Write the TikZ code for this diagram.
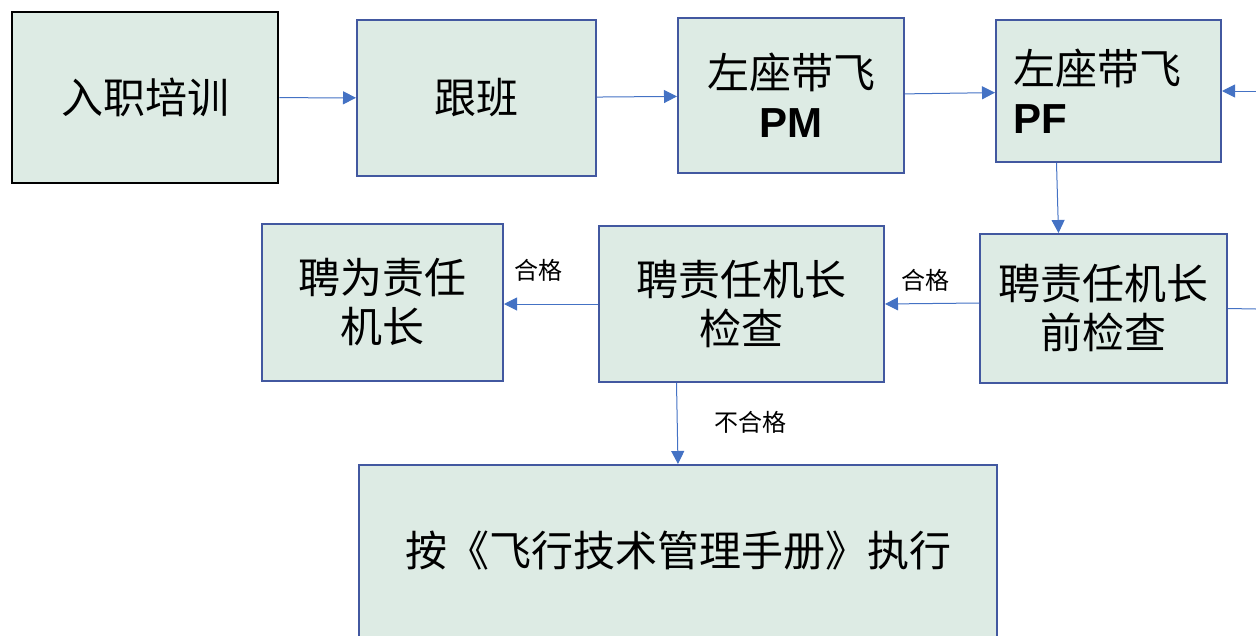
\documentclass[tikz,border=0pt]{standalone}
\usepackage{fontspec}
\usetikzlibrary{arrows.meta}
\newfontfamily\cjk{Noto Sans CJK SC}
\newfontfamily\latin{Liberation Sans}
\definecolor{boxfill}{RGB}{221,235,228}
\definecolor{boxline}{RGB}{66,88,160}
\definecolor{arrowline}{RGB}{68,114,196}
\tikzset{
    box/.style={draw=boxline, line width=2pt, fill=boxfill, align=center, inner sep=0pt,
        font=\cjk\fontsize{42}{49}\selectfont},
    arr/.style={draw=arrowline, line width=1pt, -{Triangle[length=13pt,width=13pt]}},
    lbl/.style={font=\cjk\fontsize{24}{28}\selectfont}
}
\begin{document}
\begin{tikzpicture}[x=1pt,y=-1pt]
    \useasboundingbox (0,0) rectangle (1256,635);
    \clip (0,0) rectangle (1256,635);
    \node[box, draw=black, line width=2.5pt, minimum width=266pt, minimum height=171pt] (train) at (145,97.5) {入职培训};
    \node[box, minimum width=239pt, minimum height=156pt] (follow) at (476.5,98) {跟班};
    \node[box, minimum width=226pt, minimum height=155pt] (leftpm) at (791,95.5) {左座带飞\\{\latin\bfseries PM}};
    \node[box, minimum width=225pt, minimum height=142pt, text width=190pt, align=left] (leftpf) at (1108.5,91) {左座带飞\\{\latin\bfseries PF}};
    \node[box, minimum width=247pt, minimum height=149pt] (precheck) at (1103.5,308.5) {聘责任机长\\前检查};
    \node[box, minimum width=285pt, minimum height=156pt] (check) at (741.5,304) {聘责任机长\\检查};
    \node[box, minimum width=241pt, minimum height=157pt] (hire) at (382.5,302.5) {聘为责任\\机长};
    \node[box, minimum width=638pt, minimum height=172pt] (manual) at (678,551) {按《飞行技术管理手册》执行};
    \coordinate (inR) at (1256,91);
    \coordinate (outR) at (1256,309);

    \draw[arr] (train) -- (follow);
    \draw[arr] (follow) -- (leftpm);
    \draw[arr] (leftpm) -- (leftpf);
    \draw[arr] (inR) -- (leftpf.east);
    \draw[arr] ([xshift=-52pt]leftpf.south) -- ([xshift=-45pt]precheck.north);
    \draw[draw=arrowline, line width=1pt] (precheck.east) -- (outR);
    \draw[arr] ([yshift=5.5pt]precheck.west) -- (check.east);
    \draw[arr] (check.west) -- (check.west -| hire.east);
    \draw[arr] ([xshift=-65pt]check.south) -- (manual.north);

    \node[lbl] (pass1) at (925,280) {合格};
    \node[lbl] (pass2) at (538,270) {合格};
    \node[lbl] (fail) at (750,422) {不合格};
\end{tikzpicture}
\end{document}
